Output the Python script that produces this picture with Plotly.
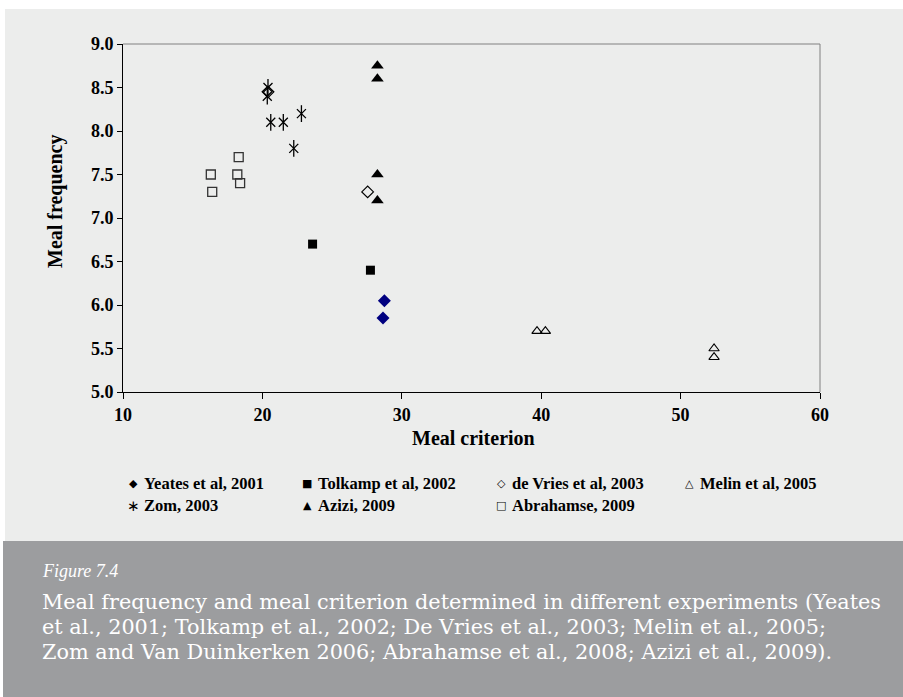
import plotly.graph_objects as go

# ---- data: meal criterion (x) vs meal frequency (y) per study ----
yeates_x = [28.75, 28.65]
yeates_y = [6.05, 5.85]

tolkamp_x = [23.6, 27.75]
tolkamp_y = [6.7, 6.4]

devries_x = [20.4, 27.55]
devries_y = [8.45, 7.3]

melin_x = [39.7, 40.3, 52.4, 52.4]
melin_y = [5.7, 5.7, 5.5, 5.4]

zom_x = [20.4, 20.35, 20.6, 21.5, 22.8, 22.25]
zom_y = [8.5, 8.4, 8.1, 8.1, 8.2, 7.8]

azizi_x = [28.25, 28.25, 28.25, 28.25]
azizi_y = [8.75, 8.6, 7.5, 7.2]

abrahamse_x = [16.3, 16.4, 18.3, 18.2, 18.4]
abrahamse_y = [7.5, 7.3, 7.7, 7.5, 7.4]

x_ticks = [10, 20, 30, 40, 50, 60]
y_ticks = [5.0, 5.5, 6.0, 6.5, 7.0, 7.5, 8.0, 8.5, 9.0]

legend_rows = [
    [("◆", "Yeates et al, 2001"), ("■", "Tolkamp et al, 2002"),
     ("◇", "de Vries et al, 2003"), ("△", "Melin et al, 2005")],
    [("∗", "Zom, 2003"), ("▲", "Azizi, 2009"), ("□", "Abrahamse, 2009")],
]

caption_label = "Figure 7.4"
caption_lines = [
    "Meal frequency and meal criterion determined in different experiments (Yeates",
    "et al., 2001; Tolkamp et al., 2002; De Vries et al., 2003; Melin et al., 2005;",
    "Zom and Van Duinkerken 2006; Abrahamse et al., 2008; Azizi et al., 2009).",
]

# ---- page geometry (pixels) ----
W, H = 903, 697
L, R, T, B = 123, 820, 44, 392          # plot area edges
SERIF = "Liberation Serif, Times New Roman, serif"
CAPTION_FONT = "DejaVu Serif, Liberation Serif, serif"


def px(x):
    return (x - L) / (R - L)


def py(y):
    return (B - y) / (B - T)


fig = go.Figure()

mk = dict(mode="markers", showlegend=False, hoverinfo="x+y")
fig.add_trace(go.Scatter(x=yeates_x, y=yeates_y, name="Yeates et al, 2001",
                         marker=dict(symbol="diamond", size=10, color="#000080"), **mk))
fig.add_trace(go.Scatter(x=tolkamp_x, y=tolkamp_y, name="Tolkamp et al, 2002",
                         marker=dict(symbol="square", size=9, color="black"), **mk))
fig.add_trace(go.Scatter(x=devries_x, y=devries_y, name="de Vries et al, 2003",
                         marker=dict(symbol="diamond-open", size=9, color="black",
                                     line=dict(width=1.2)), **mk))
fig.add_trace(go.Scatter(x=melin_x, y=melin_y, name="Melin et al, 2005",
                         marker=dict(symbol="triangle-up-open", size=9, color="black",
                                     line=dict(width=1.1)), **mk))
# six-armed asterisk: an x plus a vertical stroke
fig.add_trace(go.Scatter(x=zom_x, y=zom_y, name="Zom, 2003",
                         marker=dict(symbol="x-thin-open", size=9, color="black",
                                     line=dict(width=1.3, color="black")), **mk))
fig.add_trace(go.Scatter(x=zom_x, y=zom_y, name="Zom, 2003",
                         marker=dict(symbol="line-ns-open", size=12, color="black",
                                     line=dict(width=1.3, color="black")), **mk))
fig.add_trace(go.Scatter(x=azizi_x, y=azizi_y, name="Azizi, 2009",
                         marker=dict(symbol="triangle-up", size=11, color="black"), **mk))
fig.add_trace(go.Scatter(x=abrahamse_x, y=abrahamse_y, name="Abrahamse, 2009",
                         marker=dict(symbol="square-open", size=9, color="#333333",
                                     line=dict(width=1.3)), **mk))

shapes = [
    # light panel behind the chart
    dict(type="rect", xref="paper", yref="paper", layer="below",
         x0=px(5), x1=px(W), y0=py(541), y1=py(9),
         fillcolor="#ecedec", line=dict(width=0)),
    # caption band
    dict(type="rect", xref="paper", yref="paper", layer="below",
         x0=px(3), x1=px(W), y0=py(H + 2), y1=py(541),
         fillcolor="#9c9d9f", line=dict(width=0)),
    # thin grey frame on top and right of the plot area
    dict(type="line", xref="paper", yref="paper", x0=0, x1=1, y0=1, y1=1,
         line=dict(color="#808080", width=1)),
    dict(type="line", xref="paper", yref="paper", x0=1, x1=1, y0=0, y1=1,
         line=dict(color="#808080", width=1)),
]

annotations = [
    dict(text="<b>Meal criterion</b>", x=px(473), y=py(438), xref="paper", yref="paper",
         showarrow=False, xanchor="center", yanchor="middle",
         font=dict(family=SERIF, size=20, color="black")),
    dict(text="<b>Meal frequency</b>", x=px(55), y=py(201), xref="paper", yref="paper",
         showarrow=False, xanchor="center", yanchor="middle", textangle=-90,
         font=dict(family=SERIF, size=20, color="black")),
]

# legend laid out as a grid of symbol + label
col_x = [133, 307, 501, 689]
row_y = [483, 506]
for r, row in enumerate(legend_rows):
    for c, (sym, label) in enumerate(row):
        annotations.append(dict(
            text=sym, x=px(col_x[c]), y=py(row_y[r]), xref="paper", yref="paper",
            showarrow=False, xanchor="center", yanchor="middle",
            font=dict(family="DejaVu Sans", size=15 if sym == "∗" else 11,
                      color="black")))
        annotations.append(dict(
            text=f"<b>{label}</b>", x=px(col_x[c] + 9), y=py(row_y[r]),
            xref="paper", yref="paper", showarrow=False,
            xanchor="left", yanchor="middle",
            font=dict(family=SERIF, size=16.5, color="black")))

annotations.append(dict(
    text=f"<i>{caption_label}</i>", x=px(40), y=py(571), xref="paper", yref="paper",
    showarrow=False, xanchor="left", yanchor="middle",
    font=dict(family=SERIF, size=18, color="white")))
for i, line in enumerate(caption_lines):
    annotations.append(dict(
        text=line, x=px(40), y=py(602 + 25 * i), xref="paper", yref="paper",
        showarrow=False, xanchor="left", yanchor="middle",
        font=dict(family=CAPTION_FONT, size=20.8, color="white")))

tick_font = dict(family=SERIF, size=18, color="black", weight="bold")

fig.update_layout(
    width=W, height=H,
    margin=dict(l=L, r=W - R, t=T, b=H - B, pad=0),
    paper_bgcolor="white", plot_bgcolor="white",
    showlegend=False,
    shapes=shapes, annotations=annotations,
    xaxis=dict(range=[10, 60], tickvals=x_ticks, ticks="outside", ticklen=6,
               tickcolor="black", showline=True, linecolor="black", linewidth=1,
               showgrid=False, zeroline=False, tickfont=tick_font),
    yaxis=dict(range=[5, 9], tickvals=y_ticks, tickformat=".1f", ticks="outside",
               ticklen=5, tickcolor="black", showline=True, linecolor="black",
               linewidth=1, showgrid=False, zeroline=False, tickfont=tick_font),
)

fig.write_html("out.html")
